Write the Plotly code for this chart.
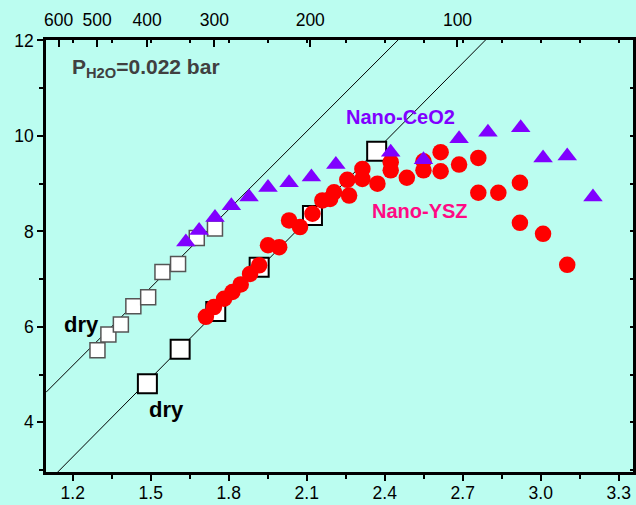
import plotly.graph_objects as go

# ---------------- data ----------------
# dry, small open squares (upper line)
dry1_x = [1.295, 1.337, 1.385, 1.433, 1.490, 1.545, 1.605, 1.677, 1.747]
dry1_y = [5.51, 5.84, 6.05, 6.43, 6.62, 7.15, 7.32, 7.86, 8.06]

# dry, large open squares (lower line)
dry2_x = [1.487, 1.613, 1.750, 1.917, 2.122, 2.369]
dry2_y = [4.81, 5.53, 6.32, 7.25, 8.335, 9.68]

# Nano-YSZ (red circles)
ysz_x = [1.712, 1.743, 1.782, 1.814, 1.846, 1.882, 1.917, 1.951, 1.994, 2.032,
         2.074, 2.122, 2.160, 2.190, 2.205, 2.263, 2.256, 2.314, 2.314, 2.372,
         2.423, 2.423, 2.485, 2.549, 2.549, 2.615, 2.615, 2.686, 2.760, 2.760,
         2.837, 2.920, 2.920, 3.009, 3.102]
ysz_y = [6.21, 6.415, 6.59, 6.73, 6.89, 7.11, 7.29, 7.71, 7.67, 8.23,
         8.09, 8.37, 8.65, 8.68, 8.82, 8.75, 9.08, 9.31, 9.10, 9.00,
         9.45, 9.28, 9.125, 9.47, 9.28, 9.66, 9.26, 9.40, 9.54, 8.81,
         8.81, 9.02, 8.18, 7.95, 7.30]

# Nano-CeO2 (purple triangles)
ceo_x = [1.635, 1.686, 1.747, 1.810, 1.878, 1.951, 2.032, 2.118, 2.212, 2.423,
         2.549, 2.686, 2.797, 2.923, 3.009, 3.102, 3.201]
ceo_y = [7.78, 8.02, 8.29, 8.54, 8.72, 8.92, 9.02, 9.14, 9.40, 9.66,
         9.50, 9.94, 10.08, 10.17, 9.54, 9.58, 8.72]

# Arrhenius guide lines: (reference x, reference y, slope)
line_upper = (1.154, 4.94, 5.45)
line_lower = (1.415, 4.46, 5.50)

# top axis temperatures (degC)
top_temps = [600, 500, 400, 300, 200, 100]

X_RANGE = [1.097, 3.355]
Y_RANGE = [2.96, 12.01]

BG = "#BBFDF0"
PURPLE = "#8000FF"
PINK = "#FF0A84"
FONT = "Liberation Sans"

fig = go.Figure()

def line_pts(p):
    x0, y0, k = p
    xs = [X_RANGE[0], X_RANGE[1]]
    return xs, [y0 + k * (x - x0) for x in xs]

for p in (line_upper, line_lower):
    lx, ly = line_pts(p)
    fig.add_trace(go.Scatter(x=lx, y=ly, mode="lines",
                             line=dict(color="black", width=1), showlegend=False,
                             hoverinfo="skip"))

fig.add_trace(go.Scatter(x=dry1_x, y=dry1_y, mode="markers", showlegend=False,
                         marker=dict(symbol="square", size=15, color="white",
                                     line=dict(color="#555555", width=1.5))))
fig.add_trace(go.Scatter(x=dry2_x, y=dry2_y, mode="markers", showlegend=False,
                         marker=dict(symbol="square", size=19, color="white",
                                     line=dict(color="black", width=2))))
fig.add_trace(go.Scatter(x=ysz_x, y=ysz_y, mode="markers", showlegend=False,
                         marker=dict(symbol="circle", size=16.5, color="#FF0000",
                                     line=dict(color="#FF0000", width=0))))
fig.add_trace(go.Scatter(x=ceo_x, y=ceo_y, mode="markers", showlegend=False,
                         marker=dict(symbol="triangle-up", size=17, color=PURPLE,
                                     line=dict(color=PURPLE, width=0))))

# dummy traces to activate the extra axes
fig.add_trace(go.Scatter(x=[1.5], y=[-100], xaxis="x2", yaxis="y", showlegend=False,
                         mode="markers", hoverinfo="skip"))
fig.add_trace(go.Scatter(x=[1.5], y=[-100], xaxis="x3", yaxis="y", showlegend=False,
                         mode="markers", hoverinfo="skip"))
fig.add_trace(go.Scatter(x=[1.5], y=[-100], xaxis="x", yaxis="y2", showlegend=False,
                         mode="markers", hoverinfo="skip"))

top_vals = [1000.0 / (t + 273.15) for t in top_temps]

tickfont = dict(family=FONT, size=17.5, color="black")

fig.update_layout(
    width=636, height=505,
    margin=dict(l=46, r=3, t=40, b=33),
    paper_bgcolor=BG, plot_bgcolor=BG,
    showlegend=False,
    xaxis=dict(range=X_RANGE, showgrid=False, zeroline=False,
               showline=True, linecolor="black", linewidth=2.5,
               ticks="outside", ticklen=6, tickwidth=2, tickcolor="black",
               tick0=1.2, dtick=0.3, tickformat=".1f", tickfont=tickfont,
               ticklabelstandoff=-3,
               minor=dict(ticks="outside", ticklen=4, tickwidth=2,
                          tickcolor="black", dtick=0.15, tick0=1.2)),
    xaxis2=dict(range=X_RANGE, overlaying="x", side="top", showgrid=False,
                zeroline=False, showline=True, linecolor="black", linewidth=2.5,
                tickmode="array", tickvals=top_vals,
                ticktext=[str(t) for t in top_temps],
                ticks="inside", ticklen=7, tickwidth=1.5, tickcolor="black",
                tickfont=tickfont, ticklabelstandoff=4),
    xaxis3=dict(range=X_RANGE, overlaying="x", side="top", showgrid=False,
                zeroline=False, showline=False, showticklabels=False,
                tick0=1.2, dtick=0.15, ticks="inside", ticklen=3,
                tickwidth=1.5, tickcolor="black"),
    yaxis=dict(range=Y_RANGE, showgrid=False, zeroline=False,
               showline=True, linecolor="black", linewidth=2.5,
               ticks="outside", ticklen=6, tickwidth=2, tickcolor="black",
               tick0=0, dtick=2, tickfont=tickfont,
               minor=dict(ticks="outside", ticklen=4, tickwidth=2,
                          tickcolor="black", dtick=1, tick0=0)),
    yaxis2=dict(range=Y_RANGE, overlaying="y", side="right", showgrid=False,
                zeroline=False, showline=True, linecolor="black", linewidth=2.5,
                showticklabels=False, tick0=0, dtick=1, ticks="inside",
                ticklen=3, tickwidth=1.5, tickcolor="black"),
)

def ann(text, x, y, size, color, xanchor="left"):
    fig.add_annotation(text=text, x=x, y=y, xref="x", yref="y",
                       xanchor=xanchor, yanchor="middle", showarrow=False,
                       font=dict(family=FONT, size=size, color=color, weight="bold"))

ann("P<sub>H2O</sub>=0.022 bar", 1.19, 11.42, 21, "#404040")
ann("Nano-CeO2", 2.245, 10.39, 20, PURPLE)
ann("Nano-YSZ", 2.342, 8.42, 20, PINK)
ann("dry", 1.160, 6.04, 22, "black")
ann("dry", 1.487, 4.26, 22, "black")

fig.write_html("out.html")
